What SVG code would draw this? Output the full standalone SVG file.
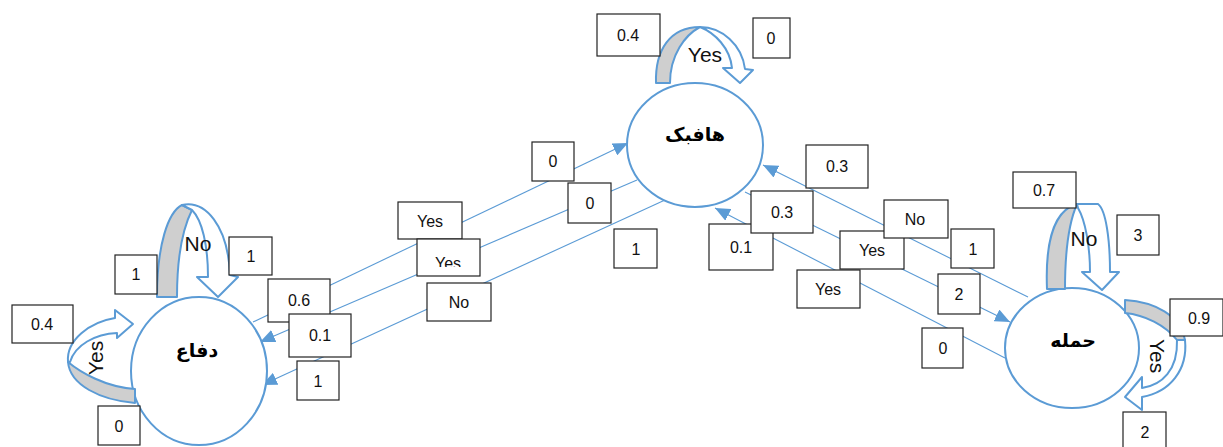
<svg xmlns="http://www.w3.org/2000/svg" width="1223" height="447" viewBox="0 0 1223 447">
<style>
.node{fill:#fff;stroke:#5B9BD5;stroke-width:2}
.fa{font-family:"DejaVu Sans",sans-serif;font-weight:bold;font-size:19px;fill:#000;text-anchor:middle}
.conn{stroke:#5B9BD5;stroke-width:1.1;fill:none;marker-end:url(#ah)}
.box{fill:#fff;stroke:#222;stroke-width:1.2}
.lbl{font-family:"Liberation Sans",Arial,sans-serif;font-size:16px;fill:#111;text-anchor:middle}
.big{font-family:"Liberation Sans",Arial,sans-serif;font-size:21px;fill:#111;text-anchor:middle}
.gray{fill:#CFCFCF;stroke:#5B9BD5;stroke-width:2;stroke-linejoin:round}
.wht{fill:#fff;stroke:#5B9BD5;stroke-width:2;stroke-linejoin:round}
</style>
<defs>
<marker id="ah" markerWidth="16" markerHeight="13" refX="15" refY="6.5" orient="auto" markerUnits="userSpaceOnUse">
<path d="M0,0 L15,6.5 L0,13 Z" fill="#5B9BD5"/>
</marker>
<clipPath id="clipYes2"><rect x="417" y="239" width="63" height="28"/></clipPath>
</defs>

<g id="connectors">
<line class="conn" x1="253" y1="322" x2="628" y2="143"/>
<line class="conn" x1="637" y1="180" x2="260" y2="342"/>
<line class="conn" x1="665" y1="200" x2="262" y2="385"/>
<line class="conn" x1="1028" y1="297" x2="763" y2="165"/>
<line class="conn" x1="745" y1="192" x2="1010" y2="322"/>
<line class="conn" x1="1005" y1="358" x2="715" y2="208"/>
</g>

<g id="node-halfback">
<ellipse class="node" cx="695" cy="145" rx="68" ry="62"/>
<text class="fa" x="695" y="141">هافبک</text>
<path class="gray" d="M656,83 C655,50 670,27 700,27 C685,35 670,55 670,83 Z"/>
<path class="wht" d="M700,27 C722,27 742,45 745,69 L753,70 L740,83 L723,68 L732,68 C730,48 715,33 700,27 Z"/>
<text class="big" x="705" y="62">Yes</text>
</g>

<g id="node-defense">
<ellipse class="node" cx="199" cy="371" rx="68" ry="74"/>
<text class="fa" x="197" y="357">دفاع</text>
<path class="gray" d="M157,297 C157,245 168,212 182,205 L192,210 C182,230 177,260 177,297 Z"/>
<path class="wht" d="M182,205 C205,200 228,225 230,275 L238,277 L218,297 L197,277 L208,277 C208,245 202,220 192,210 Z"/>
<text class="big" x="198" y="251">No</text>
<path class="gray" d="M135,403 C100,400 70,385 68,362 C80,372 105,387 135,389 Z"/>
<path class="wht" d="M68,362 C66,340 90,322 115,318 L115,310 L133,324 L117,338 L117,333 C95,334 75,345 70,362 Z"/>
<text class="big" transform="translate(103,358) rotate(-90)">Yes</text>
</g>

<g id="node-attack">
<ellipse class="node" cx="1072" cy="348" rx="67" ry="60"/>
<text class="fa" x="1073" y="347">حمله</text>
<path class="gray" d="M1047,289 C1045,240 1055,210 1077,204 C1070,220 1065,250 1065,289 Z"/>
<path class="wht" d="M1077,204 L1098,204 C1106,210 1110,240 1110,272 L1119,272 L1102,290 L1082,272 L1090,272 C1090,245 1085,220 1078,208 Z"/>
<text class="big" x="1084" y="246">No</text>
<path class="gray" d="M1125,300 C1155,302 1180,315 1185,340 L1177,340 C1165,325 1145,315 1125,313 Z"/>
<path class="wht" d="M1185,340 C1188,370 1170,392 1142,397 L1142,410 L1125,397 L1142,377 L1142,388 C1162,385 1178,370 1177,340 Z"/>
<text class="big" transform="translate(1150,356) rotate(90)">Yes</text>
</g>

<g id="labels">
<rect class="box" x="597" y="14" width="63" height="42"/><text class="lbl" x="628" y="41">0.4</text>
<rect class="box" x="753" y="18" width="37" height="40"/><text class="lbl" x="771" y="44">0</text>

<rect class="box" x="115" y="255" width="42" height="39"/><text class="lbl" x="136" y="280">1</text>
<rect class="box" x="229" y="237" width="43" height="38"/><text class="lbl" x="251" y="262">1</text>
<rect class="box" x="12" y="305" width="61" height="38"/><text class="lbl" x="42" y="330">0.4</text>
<rect class="box" x="98" y="406" width="42" height="39"/><text class="lbl" x="119" y="432">0</text>

<rect class="box" x="1013" y="172" width="63" height="36"/><text class="lbl" x="1044" y="196">0.7</text>
<rect class="box" x="1117" y="215" width="42" height="40"/><text class="lbl" x="1138" y="241">3</text>
<rect class="box" x="1170" y="299" width="53" height="37"/><text class="lbl" x="1199" y="324">0.9</text>
<rect class="box" x="1123" y="412" width="43" height="40"/><text class="lbl" x="1145" y="438">2</text>

<rect class="box" x="532" y="142" width="42" height="39"/><text class="lbl" x="553" y="167">0</text>
<rect class="box" x="568" y="183" width="43" height="40"/><text class="lbl" x="590" y="209">0</text>
<rect class="box" x="614" y="229" width="43" height="39"/><text class="lbl" x="636" y="255">1</text>
<rect class="box" x="398" y="202" width="64" height="37"/><text class="lbl" x="430" y="227">Yes</text>
<rect class="box" x="417" y="239" width="63" height="37"/><text class="lbl" x="448" y="269" clip-path="url(#clipYes2)">Yes</text>
<rect class="box" x="427" y="283" width="64" height="38"/><text class="lbl" x="459" y="308">No</text>
<rect class="box" x="268" y="279" width="62" height="43"/><text class="lbl" x="299" y="306">0.6</text>
<rect class="box" x="289" y="314" width="62" height="43"/><text class="lbl" x="320" y="341">0.1</text>
<rect class="box" x="297" y="361" width="42" height="39"/><text class="lbl" x="318" y="387">1</text>

<rect class="box" x="806" y="145" width="62" height="43"/><text class="lbl" x="837" y="172">0.3</text>
<rect class="box" x="709" y="224" width="64" height="46"/><text class="lbl" x="741" y="253">0.1</text>
<rect class="box" x="751" y="191" width="62" height="42"/><text class="lbl" x="782" y="218">0.3</text>
<rect class="box" x="840" y="231" width="64" height="38"/><text class="lbl" x="872" y="256">Yes</text>
<rect class="box" x="884" y="200" width="64" height="38"/><text class="lbl" x="915" y="225">No</text>
<rect class="box" x="797" y="270" width="63" height="38"/><text class="lbl" x="828" y="295">Yes</text>
<rect class="box" x="951" y="229" width="43" height="39"/><text class="lbl" x="973" y="255">1</text>
<rect class="box" x="938" y="274" width="42" height="40"/><text class="lbl" x="959" y="300">2</text>
<rect class="box" x="922" y="328" width="41" height="40"/><text class="lbl" x="943" y="354">0</text>
</g>
</svg>
